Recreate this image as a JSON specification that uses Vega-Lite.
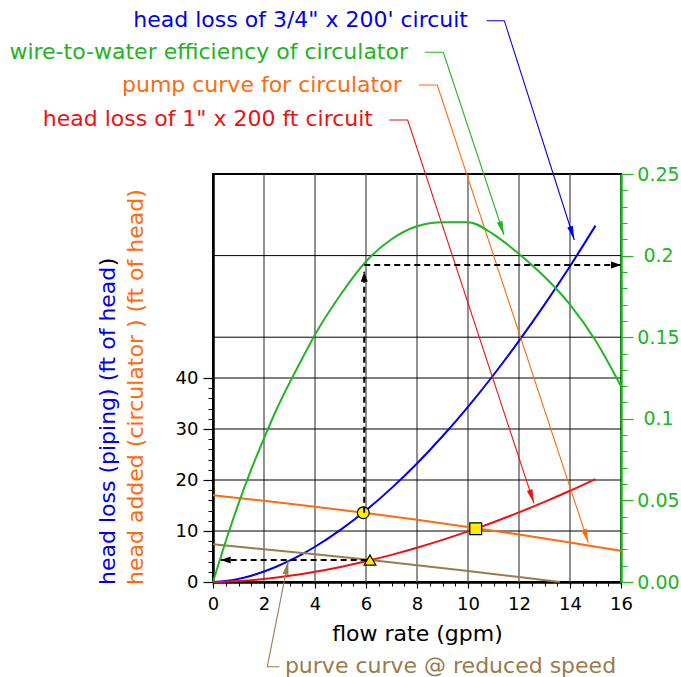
{
  "$schema": "https://vega.github.io/schema/vega-lite/v6.json",
  "width": 408,
  "height": 408,
  "autosize": {"type": "none"},
  "padding": {"left": 213, "top": 174, "right": 60, "bottom": 95},
  "config": {
    "view": {"stroke": "black", "strokeWidth": 2},
    "font": "DejaVu Sans",
    "axis": {"labelFont": "DejaVu Sans", "titleFont": "DejaVu Sans"}
  },
  "datasets": {
    "grid": [
      {"dir": "v", "v": 2}, {"dir": "v", "v": 4}, {"dir": "v", "v": 6}, {"dir": "v", "v": 8},
      {"dir": "v", "v": 10}, {"dir": "v", "v": 12}, {"dir": "v", "v": 14},
      {"dir": "h", "v": 10}, {"dir": "h", "v": 20}, {"dir": "h", "v": 30}, {"dir": "h", "v": 40},
      {"dir": "h", "v": 48}, {"dir": "h", "v": 64}
    ],
    "curves": [
      {"id": "b", "flow": 0, "head": 0}, {"id": "b", "flow": 0.5, "head": 0.182}, {"id": "b", "flow": 1, "head": 0.611},
      {"id": "b", "flow": 1.5, "head": 1.242}, {"id": "b", "flow": 2, "head": 2.055}, {"id": "b", "flow": 2.5, "head": 3.037},
      {"id": "b", "flow": 3, "head": 4.179}, {"id": "b", "flow": 3.5, "head": 5.472}, {"id": "b", "flow": 4, "head": 6.913},
      {"id": "b", "flow": 5, "head": 10.216}, {"id": "b", "flow": 6, "head": 14.053}, {"id": "b", "flow": 7, "head": 18.409},
      {"id": "b", "flow": 8, "head": 23.249}, {"id": "b", "flow": 9, "head": 28.576}, {"id": "b", "flow": 10, "head": 34.357},
      {"id": "b", "flow": 11, "head": 40.589}, {"id": "b", "flow": 12, "head": 47.273}, {"id": "b", "flow": 13, "head": 54.379},
      {"id": "b", "flow": 14, "head": 61.919}, {"id": "b", "flow": 15, "head": 69.88},
      {"id": "r", "flow": 0, "head": 0}, {"id": "r", "flow": 0.5, "head": 0.053}, {"id": "r", "flow": 1, "head": 0.177},
      {"id": "r", "flow": 1.5, "head": 0.359}, {"id": "r", "flow": 2, "head": 0.594}, {"id": "r", "flow": 2.5, "head": 0.877},
      {"id": "r", "flow": 3, "head": 1.207}, {"id": "r", "flow": 3.5, "head": 1.581}, {"id": "r", "flow": 4, "head": 1.997},
      {"id": "r", "flow": 5, "head": 2.951}, {"id": "r", "flow": 6, "head": 4.06}, {"id": "r", "flow": 7, "head": 5.318},
      {"id": "r", "flow": 8, "head": 6.716}, {"id": "r", "flow": 9, "head": 8.255}, {"id": "r", "flow": 10, "head": 9.925},
      {"id": "r", "flow": 11, "head": 11.725}, {"id": "r", "flow": 12, "head": 13.656}, {"id": "r", "flow": 13, "head": 15.709},
      {"id": "r", "flow": 14, "head": 17.887}, {"id": "r", "flow": 15, "head": 20.186},
      {"id": "o", "flow": 0, "head": 17}, {"id": "o", "flow": 2, "head": 15.92}, {"id": "o", "flow": 4, "head": 14.76},
      {"id": "o", "flow": 6, "head": 13.52}, {"id": "o", "flow": 8, "head": 12.2}, {"id": "o", "flow": 10, "head": 10.8},
      {"id": "o", "flow": 12, "head": 9.31}, {"id": "o", "flow": 14, "head": 7.75}, {"id": "o", "flow": 16, "head": 6.1},
      {"id": "n", "flow": 0, "head": 7.39}, {"id": "n", "flow": 2, "head": 6.44}, {"id": "n", "flow": 4, "head": 5.44},
      {"id": "n", "flow": 6, "head": 4.39}, {"id": "n", "flow": 8, "head": 3.3}, {"id": "n", "flow": 10, "head": 2.17},
      {"id": "n", "flow": 12, "head": 0.98}, {"id": "n", "flow": 13.6, "head": 0}
    ],
    "eff": [
      {"flow": 0, "eff": 0}, {"flow": 0.5, "eff": 0.025}, {"flow": 1, "eff": 0.048}, {"flow": 1.5, "eff": 0.069},
      {"flow": 2, "eff": 0.088}, {"flow": 2.5, "eff": 0.106}, {"flow": 3, "eff": 0.122}, {"flow": 3.5, "eff": 0.137},
      {"flow": 4, "eff": 0.1515}, {"flow": 5, "eff": 0.176}, {"flow": 6, "eff": 0.1964}, {"flow": 7, "eff": 0.21},
      {"flow": 8, "eff": 0.218}, {"flow": 9, "eff": 0.2205}, {"flow": 10, "eff": 0.2205}, {"flow": 11, "eff": 0.213},
      {"flow": 12, "eff": 0.201}, {"flow": 13, "eff": 0.187}, {"flow": 14, "eff": 0.17}, {"flow": 15, "eff": 0.148},
      {"flow": 16, "eff": 0.12}
    ],
    "leaders": [
      {"id": "b", "k": 1, "flow": 10.733, "head": 110.06}, {"id": "b", "k": 2, "flow": 11.424, "head": 110.06}, {"id": "b", "k": 3, "flow": 14.169, "head": 67.06},
      {"id": "g", "k": 1, "flow": 8.314, "head": 103.86}, {"id": "g", "k": 2, "flow": 9.031, "head": 103.86}, {"id": "g", "k": 3, "flow": 11.412, "head": 68.04},
      {"id": "o", "k": 1, "flow": 8.078, "head": 97.45}, {"id": "o", "k": 2, "flow": 8.796, "head": 97.45}, {"id": "o", "k": 3, "flow": 14.718, "head": 7.706},
      {"id": "r", "k": 1, "flow": 6.914, "head": 90.59}, {"id": "r", "k": 2, "flow": 7.635, "head": 90.59}, {"id": "r", "k": 3, "flow": 12.588, "head": 15.43},
      {"id": "n", "k": 1, "flow": 2.6, "head": -16.61}, {"id": "n", "k": 2, "flow": 2.129, "head": -16.61}, {"id": "n", "k": 3, "flow": 2.953, "head": 4.176}
    ],
    "leaderTips": [
      {"id": "b", "flow": 14.169, "head": 67.06, "ang": 162.3},
      {"id": "g", "flow": 11.412, "head": 68.04, "ang": 161.6},
      {"id": "o", "flow": 14.718, "head": 7.706, "ang": 161.7},
      {"id": "r", "flow": 12.588, "head": 15.43, "ang": 161.8},
      {"id": "n", "flow": 2.953, "head": 4.176, "ang": 11.2}
    ],
    "labels": [
      {"id": "b", "txt": "head loss of 3/4\" x 200' circuit", "flow": 10.0, "head": 108.88},
      {"id": "g", "txt": "wire-to-water efficiency of circulator", "flow": 7.647, "head": 102.49},
      {"id": "o", "txt": "pump curve for circulator", "flow": 7.4, "head": 96.14},
      {"id": "r", "txt": "head loss of 1\" x 200 ft circuit", "flow": 6.275, "head": 89.41},
      {"id": "n", "txt": "purve curve @ reduced speed", "flow": 2.82, "head": -17.78}
    ],
    "titles": [
      {"id": "b", "txt": "head loss (piping) (ft of head", "flow": -4.118, "head": -0.588},
      {"id": "k", "txt": ")", "flow": -4.118, "head": 61.9},
      {"id": "o", "txt": "head added (circulator ) (ft of head)", "flow": -3.027, "head": -0.588}
    ],
    "markers": [
      {"m": "circle", "flow": 5.894, "head": 13.59},
      {"m": "square", "flow": 10.302, "head": 10.45},
      {"m": "triangle-up", "flow": 6.157, "head": 4.31}
    ],
    "dashUp": [{"flow": 5.93, "head": 13.59}, {"flow": 5.93, "head": 60.84}],
    "dashLeft": [{"flow": 6.157, "head": 4.31}, {"flow": 0.3, "head": 4.31}],
    "dashTips": [
      {"flow": 5.93, "head": 60.84, "ang": 0},
      {"flow": 0.3, "head": 4.31, "ang": 270}
    ],
    "dashRight": [{"flow": 5.93, "eff": 0.1942}, {"flow": 16, "eff": 0.1942}],
    "dashRightTip": [{"flow": 16, "eff": 0.1942, "ang": 90}]
  },
  "resolve": {
    "scale": {"x": "independent", "y": "independent"},
    "axis": {"x": "independent", "y": "independent"}
  },
  "layer": [
    {
      "data": {"name": "grid"},
      "layer": [
        {
          "transform": [{"filter": "datum.dir == 'v'"}],
          "mark": {"type": "rule", "color": "#555555", "strokeWidth": 1.3},
          "encoding": {
            "x": {"field": "v", "type": "quantitative", "scale": {"domain": [0, 16], "nice": false},
              "axis": {"orient": "bottom", "values": [0,0.5,1,1.5,2,2.5,3,3.5,4,4.5,5,5.5,6,6.5,7,7.5,8,8.5,9,9.5,10,10.5,11,11.5,12,12.5,13,13.5,14,14.5,15,15.5,16],
                "tickSize": 4, "tickColor": "black", "tickWidth": 1, "labels": false, "domain": false, "grid": false, "title": null}}
          }
        },
        {
          "transform": [{"filter": "datum.dir == 'h'"}],
          "mark": {"type": "rule", "color": "black", "strokeWidth": 1},
          "encoding": {
            "y": {"field": "v", "type": "quantitative", "scale": {"domain": [0, 80], "nice": false},
              "axis": {"orient": "left", "values": [0,2,4,6,8,10,12,14,16,18,20,22,24,26,28,30,32,34,36,38,40],
                "tickSize": 5, "tickColor": "black", "tickWidth": 1, "labels": false, "domain": false, "grid": false, "title": null}}
          }
        }
      ]
    },
    {
      "encoding": {
        "x": {"field": "flow", "type": "quantitative", "scale": {"domain": [0, 16], "nice": false},
          "axis": {"orient": "bottom", "values": [0,2,4,6,8,10,12,14,16], "tickSize": 6, "tickColor": "black", "tickWidth": 1.2,
            "labelFontSize": 18, "labelColor": "black", "labelPadding": 7, "labelFlush": false, "labelOverlap": false,
            "domainColor": "black", "domainWidth": 2.5, "grid": false,
            "title": "flow rate (gpm)", "titleFontSize": 22, "titleFontWeight": "normal", "titleColor": "black", "titlePadding": 10}},
        "y": {"field": "head", "type": "quantitative", "scale": {"domain": [0, 80], "nice": false},
          "axis": {"orient": "left", "values": [0,10,20,30,40], "tickSize": 10, "tickColor": "black", "tickWidth": 1.2,
            "labelFontSize": 18, "labelColor": "black", "labelPadding": 5,
            "domainColor": "black", "domainWidth": 2.5, "grid": false, "title": null}}
      },
      "layer": [
        {
          "data": {"name": "curves"},
          "mark": {"type": "line", "strokeWidth": 2, "interpolate": "monotone"},
          "encoding": {
            "color": {"field": "id", "type": "nominal", "legend": null,
              "scale": {"domain": ["b","g","o","r","n","k"], "range": ["#0000ee","#22b422","#ff6a0e","#ee1111","#9a7b4c","#000000"]}}
          }
        },
        {
          "data": {"name": "leaders"},
          "mark": {"type": "line", "strokeWidth": 1.1},
          "encoding": {
            "order": {"field": "k", "type": "quantitative"},
            "color": {"field": "id", "type": "nominal", "legend": null,
              "scale": {"domain": ["b","g","o","r","n","k"], "range": ["#0000ee","#22b422","#ff6a0e","#ee1111","#9a7b4c","#000000"]}}
          }
        },
        {
          "data": {"name": "leaderTips"},
          "mark": {"type": "point", "filled": true, "opacity": 1, "shape": "M0,0L-0.42,2L0.42,2Z", "size": 196, "strokeWidth": 0},
          "encoding": {
            "angle": {"field": "ang", "type": "quantitative", "scale": null},
            "color": {"field": "id", "type": "nominal", "legend": null,
              "scale": {"domain": ["b","g","o","r","n","k"], "range": ["#0000ee","#22b422","#ff6a0e","#ee1111","#9a7b4c","#000000"]}}
          }
        },
        {
          "data": {"name": "dashLeft"},
          "mark": {"type": "line", "color": "black", "strokeWidth": 2, "strokeDash": [6, 4]},
          "encoding": {}
        },
        {
          "data": {"name": "markers"},
          "mark": {"type": "point", "filled": true, "opacity": 1, "fill": "#ffee00", "stroke": "black", "strokeWidth": 1.2, "size": 140},
          "encoding": {
            "shape": {"field": "m", "type": "nominal", "scale": null}
          }
        },
        {
          "data": {"name": "dashUp"},
          "mark": {"type": "line", "color": "black", "strokeWidth": 2, "strokeDash": [6, 4]},
          "encoding": {}
        },
        {
          "data": {"name": "dashTips"},
          "mark": {"type": "point", "filled": true, "opacity": 1, "color": "black", "shape": "M0,0L-0.7,2L0.7,2Z", "size": 100, "strokeWidth": 0},
          "encoding": {
            "angle": {"field": "ang", "type": "quantitative", "scale": null}
          }
        },
        {
          "data": {"name": "labels"},
          "transform": [{"filter": "datum.id != 'n'"}],
          "mark": {"type": "text", "align": "right", "baseline": "alphabetic", "fontSize": 22, "font": "DejaVu Sans"},
          "encoding": {
            "text": {"field": "txt"},
            "color": {"field": "id", "type": "nominal", "legend": null,
              "scale": {"domain": ["b","g","o","r","n","k"], "range": ["#0000ee","#22b422","#ff6a0e","#ee1111","#9a7b4c","#000000"]}}
          }
        },
        {
          "data": {"name": "labels"},
          "transform": [{"filter": "datum.id == 'n'"}],
          "mark": {"type": "text", "align": "left", "baseline": "alphabetic", "fontSize": 22, "font": "DejaVu Sans"},
          "encoding": {
            "text": {"field": "txt"},
            "color": {"field": "id", "type": "nominal", "legend": null,
              "scale": {"domain": ["b","g","o","r","n","k"], "range": ["#0000ee","#22b422","#ff6a0e","#ee1111","#9a7b4c","#000000"]}}
          }
        },
        {
          "data": {"name": "titles"},
          "mark": {"type": "text", "align": "left", "baseline": "middle", "angle": 270, "fontSize": 22, "font": "DejaVu Sans"},
          "encoding": {
            "text": {"field": "txt"},
            "color": {"field": "id", "type": "nominal", "legend": null,
              "scale": {"domain": ["b","g","o","r","n","k"], "range": ["#0000ee","#22b422","#ff6a0e","#ee1111","#9a7b4c","#000000"]}}
          }
        }
      ]
    },
    {
      "data": {"name": "eff"},
      "mark": {"type": "line", "color": "#22b422", "strokeWidth": 2, "interpolate": "monotone"},
      "encoding": {
        "x": {"field": "flow", "type": "quantitative", "scale": {"domain": [0, 16], "nice": false}, "axis": null},
        "y": {"field": "eff", "type": "quantitative", "scale": {"domain": [0, 0.25], "nice": false},
          "axis": {"orient": "right", "values": [0, 0.05, 0.1, 0.15, 0.2, 0.25], "tickSize": 12, "tickColor": "#22b422", "tickWidth": 1.2,
            "labelFontSize": 19, "labelColor": "#22b422", "labelAlign": "center", "labelPadding": 25,
            "labelExpr": "datum.value == 0 ? '0.00' : format(datum.value, '.2~f')",
            "domainColor": "#22b422", "domainWidth": 2.5, "grid": false, "title": null}}
      }
    },
    {
      "encoding": {
        "x": {"field": "flow", "type": "quantitative", "scale": {"domain": [0, 16], "nice": false}, "axis": null},
        "y": {"field": "eff", "type": "quantitative", "scale": {"domain": [0, 0.25], "nice": false},
          "axis": {"orient": "right", "values": [0,0.01,0.02,0.03,0.04,0.05,0.06,0.07,0.08,0.09,0.1,0.11,0.12,0.13,0.14,0.15,0.16,0.17,0.18,0.19,0.2,0.21,0.22,0.23,0.24,0.25],
            "tickSize": 6, "tickColor": "#22b422", "tickWidth": 1, "labels": false, "domain": false, "grid": false, "title": null}}
      },
      "layer": [
        {
          "data": {"name": "dashRight"},
          "mark": {"type": "line", "color": "black", "strokeWidth": 2, "strokeDash": [6, 4]}
        },
        {
          "data": {"name": "dashRightTip"},
          "mark": {"type": "point", "filled": true, "opacity": 1, "color": "black", "shape": "M0,0L-0.7,2L0.7,2Z", "size": 100, "strokeWidth": 0},
          "encoding": {
            "angle": {"field": "ang", "type": "quantitative", "scale": null}
          }
        }
      ]
    }
  ]
}
